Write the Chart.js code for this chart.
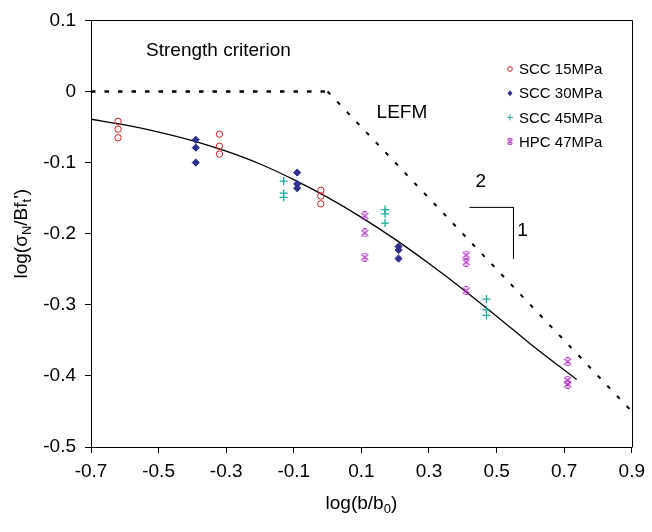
<!DOCTYPE html>
<html>
<head>
<meta charset="UTF-8">
<title>Size effect - log(b/b0)</title>
<style>
  html, body { margin: 0; padding: 0; background: #fff; }
</style>
</head>
<body>
<canvas id="sizeChart" width="652" height="532"></canvas>
<script src="https://cdn.jsdelivr.net/npm/chart.js/dist/chart.umd.min.js"></script>
<script>
// axis ticks
const xTicks = [-0.7, -0.5, -0.3, -0.1, 0.1, 0.3, 0.5, 0.7, 0.9];
const yTicks = [-0.5, -0.4, -0.3, -0.2, -0.1, 0, 0.1];

// test results, x = log(b/b0), y = log(sigmaN / B f't)
const scc15_x = [-0.62, -0.62, -0.62, -0.32, -0.32, -0.32, -0.02, -0.02, -0.02];
const scc15_y = [-0.042, -0.053, -0.065, -0.060, -0.077, -0.088, -0.139, -0.147, -0.158];
const scc30_x = [-0.39, -0.39, -0.39, -0.09, -0.09, -0.09, 0.21, 0.21, 0.21];
const scc30_y = [-0.068, -0.079, -0.100, -0.114, -0.130, -0.136, -0.218, -0.223, -0.235];
const scc45_x = [-0.13, -0.13, -0.13, 0.17, 0.17, 0.17, 0.47, 0.47, 0.47];
const scc45_y = [-0.126, -0.143, -0.149, -0.166, -0.172, -0.185, -0.292, -0.307, -0.315];
const hpc47_x = [0.11, 0.11, 0.11, 0.41, 0.41, 0.41, 0.71, 0.71, 0.71];
const hpc47_y = [-0.175, -0.199, -0.233, -0.230, -0.240, -0.280, -0.380, -0.406, -0.412];

// fitted size effect curve
const fit_x = [-0.7, -0.6, -0.5, -0.4, -0.3, -0.2, -0.1, 0, 0.1, 0.2, 0.3, 0.4, 0.5, 0.6, 0.737];
const fit_y = [-0.039, -0.047, -0.057, -0.069, -0.084, -0.102, -0.124, -0.149, -0.177, -0.208, -0.242, -0.278, -0.316, -0.355, -0.405];

// asymptotes: strength criterion and LEFM
const strength_x = [-0.7, 0];
const strength_y = [0, 0];
const lefm_x = [0, 0.9];
const lefm_y = [0, -0.45];

// 1:2 slope sign
const slope_x = [0.42, 0.55, 0.55];
const slope_y = [-0.163, -0.163, -0.235];

const FONT = "'Liberation Sans', Arial, sans-serif";
const RED = '#cc2229', BLUE = '#2f2f8f', TEAL = '#1fa79c', MAG = '#b034c4';

function pts(xs, ys) { return xs.map((x, i) => ({ x: x, y: ys[i] })); }

// HPC marker: an x with short bars on top and bottom
function makeStar(color, s) {
  const c = document.createElement('canvas');
  c.width = s; c.height = s;
  const g = c.getContext('2d');
  g.strokeStyle = color; g.lineWidth = 1.2;
  const m = s / 2;
  g.beginPath();
  g.moveTo(1, 1.5); g.lineTo(s - 1, s - 1.5);
  g.moveTo(s - 1, 1.5); g.lineTo(1, s - 1.5);
  g.moveTo(m - 1.8, 0.7); g.lineTo(m + 1.8, 0.7);
  g.moveTo(m - 1.8, s - 0.7); g.lineTo(m + 1.8, s - 0.7);
  g.stroke();
  return c;
}
const starBig = makeStar(MAG, 9);
const starSmall = makeStar(MAG, 7);

// draw text with subscripts, parts = [[text, isSub], ...], centred at 0,0
function drawRich(ctx, parts, size) {
  const subSize = Math.round(size * 0.7);
  let total = 0;
  parts.forEach(p => {
    ctx.font = (p[1] ? subSize : size) + 'px ' + FONT;
    total += ctx.measureText(p[0]).width;
  });
  let x = -total / 2;
  ctx.textBaseline = 'middle';
  ctx.textAlign = 'left';
  parts.forEach(p => {
    ctx.font = (p[1] ? subSize : size) + 'px ' + FONT;
    ctx.fillText(p[0], x, p[1] ? size * 0.3 : 0);
    x += ctx.measureText(p[0]).width;
  });
}

const extras = {
  id: 'extras',
  afterDraw(chart) {
    const ctx = chart.ctx;
    const a = chart.chartArea;
    const xs = chart.scales.x, ys = chart.scales.y;
    ctx.save();
    // frame top and right
    ctx.strokeStyle = '#000'; ctx.lineWidth = 1;
    ctx.beginPath();
    ctx.moveTo(Math.round(a.left) + 0.5, Math.round(a.top) + 0.5);
    ctx.lineTo(Math.round(a.right) + 0.5, Math.round(a.top) + 0.5);
    ctx.lineTo(Math.round(a.right) + 0.5, Math.round(a.bottom) + 0.5);
    ctx.stroke();

    ctx.fillStyle = '#000';
    // annotations
    ctx.font = '19px ' + FONT;
    ctx.textAlign = 'left'; ctx.textBaseline = 'middle';
    ctx.fillText('Strength criterion', xs.getPixelForValue(-0.537), ys.getPixelForValue(0.057));
    ctx.textAlign = 'center';
    ctx.fillText('LEFM', xs.getPixelForValue(0.22), ys.getPixelForValue(-0.030));
    ctx.fillText('2', xs.getPixelForValue(0.453), ys.getPixelForValue(-0.127));
    ctx.fillText('1', xs.getPixelForValue(0.577), ys.getPixelForValue(-0.196));

    // axis titles
    ctx.save();
    ctx.translate((a.left + a.right) / 2, 504);
    drawRich(ctx, [['log(b/b', false], ['0', true], [')', false]], 19);
    ctx.restore();
    ctx.save();
    ctx.translate(22, (a.top + a.bottom) / 2);
    ctx.rotate(-Math.PI / 2);
    drawRich(ctx, [['log(\u03C3', false], ['N', true], ['/Bf', false], ['t', true], ['\')', false]], 19);
    ctx.restore();

    // legend
    const rows = chart.data.datasets.filter(d => d.legendName);
    ctx.font = '15px ' + FONT;
    ctx.textAlign = 'left'; ctx.textBaseline = 'middle';
    rows.forEach((d, i) => {
      const mx = 510, my = 69 + i * 24.2;
      ctx.fillStyle = '#000';
      ctx.fillText(d.legendName, 519, my + 1);
      ctx.strokeStyle = d.borderColor; ctx.fillStyle = d.borderColor; ctx.lineWidth = 1;
      ctx.beginPath();
      if (d.pointStyle === 'circle') {
        ctx.arc(mx, my, 2.3, 0, Math.PI * 2); ctx.stroke();
      } else if (d.pointStyle === 'rectRot') {
        ctx.moveTo(mx, my - 3); ctx.lineTo(mx + 2.5, my); ctx.lineTo(mx, my + 3); ctx.lineTo(mx - 2.5, my);
        ctx.closePath(); ctx.fill();
      } else if (d.pointStyle === 'cross') {
        ctx.moveTo(mx - 3, my); ctx.lineTo(mx + 3, my); ctx.moveTo(mx, my - 3); ctx.lineTo(mx, my + 3);
        ctx.stroke();
      } else {
        ctx.drawImage(starSmall, mx - 3.5, my - 3.5);
      }
    });
    ctx.restore();
  }
};

new Chart(document.getElementById('sizeChart'), {
  type: 'scatter',
  data: {
    datasets: [
      {
        legendName: 'SCC 15MPa', data: pts(scc15_x, scc15_y),
        pointStyle: 'circle', pointRadius: 3.2, borderColor: RED, backgroundColor: 'rgba(0,0,0,0)',
        pointBorderWidth: 1
      },
      {
        legendName: 'SCC 30MPa', data: pts(scc30_x, scc30_y),
        pointStyle: 'rectRot', pointRadius: 3.6, borderColor: BLUE, backgroundColor: BLUE,
        pointBorderWidth: 1
      },
      {
        legendName: 'SCC 45MPa', data: pts(scc45_x, scc45_y),
        pointStyle: 'cross', pointRadius: 4, borderColor: TEAL, backgroundColor: TEAL,
        pointBorderWidth: 1.3
      },
      {
        legendName: 'HPC 47MPa', data: pts(hpc47_x, hpc47_y),
        pointStyle: starBig, borderColor: MAG, backgroundColor: MAG
      },
      {
        data: pts(fit_x, fit_y), showLine: true, pointRadius: 0,
        borderColor: '#000', borderWidth: 1.3, tension: 0.4, cubicInterpolationMode: 'monotone'
      },
      {
        data: pts(strength_x, strength_y), showLine: true, pointRadius: 0,
        borderColor: '#000', borderWidth: 2.4, borderDash: [4.5, 9]
      },
      {
        data: pts(lefm_x, lefm_y), showLine: true, pointRadius: 0,
        borderColor: '#000', borderWidth: 2, borderDash: [4, 10]
      },
      {
        data: pts(slope_x, slope_y), showLine: true, pointRadius: 0,
        borderColor: '#000', borderWidth: 1
      }
    ]
  },
  options: {
    responsive: false,
    animation: false,
    devicePixelRatio: 1,
    layout: { padding: { top: 15, right: 20, left: 0, bottom: 0 } },
    plugins: { legend: { display: false }, tooltip: { enabled: false } },
    scales: {
      x: {
        type: 'linear', min: -0.7, max: 0.9,
        afterBuildTicks: s => { s.ticks = xTicks.map(v => ({ value: v })); },
        afterFit: s => { s.height = 85; },
        grid: { drawOnChartArea: false, tickLength: 6, color: '#000' },
        border: { color: '#000', width: 1 },
        ticks: {
          color: '#000', padding: 7, font: { family: FONT, size: 19 },
          callback: v => v.toFixed(1)
        }
      },
      y: {
        type: 'linear', min: -0.5, max: 0.1,
        afterBuildTicks: s => { s.ticks = yTicks.map(v => ({ value: v })); },
        afterFit: s => { s.width = 91; },
        grid: { drawOnChartArea: false, tickLength: 6, color: '#000' },
        border: { color: '#000', width: 1 },
        ticks: {
          color: '#000', padding: 9, font: { family: FONT, size: 19 },
          callback: v => Math.abs(v) < 1e-9 ? '0' : v.toFixed(1)
        }
      }
    }
  },
  plugins: [extras]
});
</script>
</body>
</html>
